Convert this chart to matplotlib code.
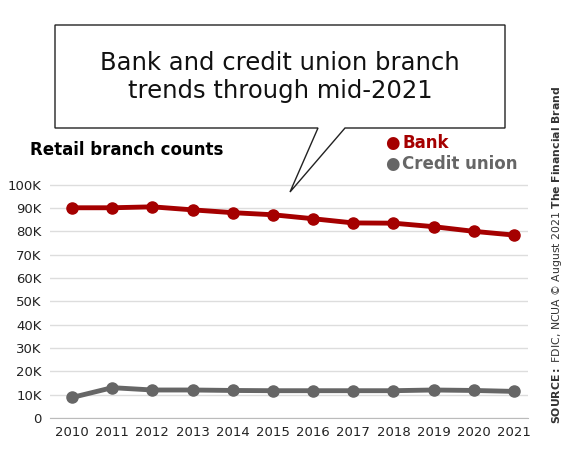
import matplotlib.pyplot as plt
from matplotlib.patches import Polygon

years = list(range(2010, 2022))
bank = [90.1, 90.1, 90.5, 89.2, 88.0, 87.1, 85.4, 83.6, 83.5, 82.0, 80.0, 78.4]
credit_union = [8.8, 13.0, 12.0, 12.0, 11.8, 11.7, 11.7, 11.7, 11.7, 12.0, 11.8, 11.4]
yticks = list(range(0, 101, 10))
ytick_labels = ['0'] + [f'{v}K' for v in yticks[1:]]

RED = '#a50000'
GREY = '#666666'

fig = plt.figure(figsize=(5.85, 4.61), dpi=100)
ax = fig.add_axes([50 / 585, 1 - 418 / 461, 478 / 585, (418 - 180) / 461])

ax.plot(years, bank, color=RED, lw=3.5, marker='o', ms=8, zorder=3)
ax.plot(years, credit_union, color=GREY, lw=3.5, marker='o', ms=8, zorder=3)
ax.set_ylim(0, 102)
ax.set_xlim(2009.45, 2021.35)
ax.set_yticks(yticks)
ax.set_yticklabels(ytick_labels)
ax.set_xticks(years)
ax.grid(axis='y', color='#dddddd', lw=1)
ax.tick_params(length=0, labelsize=9.5, colors='#222222', pad=6)
for s in ax.spines.values():
    s.set_visible(False)
ax.spines['bottom'].set_visible(True)
ax.spines['bottom'].set_color('#bbbbbb')

# speech bubble
px = lambda x, y: (x / 585, 1 - y / 461)
bubble = Polygon([px(55, 25), px(505, 25), px(505, 128), px(345, 128), px(290, 192),
                  px(318, 128), px(55, 128)], closed=True, transform=fig.transFigure,
                 facecolor='white', edgecolor='#222222', lw=1)
fig.patches.append(bubble)
fig.text(280 / 585, 1 - 77 / 461, 'Bank and credit union branch\ntrends through mid-2021',
         ha='center', va='center', fontsize=17.5, color='#111111', linespacing=1.2)

fig.text(30 / 585, 1 - 150 / 461, 'Retail branch counts', fontsize=12, fontweight='bold',
         ha='left', va='center')
fig.text(385 / 585, 1 - 143 / 461, '●', color=RED, fontsize=12, va='center')
fig.text(402 / 585, 1 - 143 / 461, 'Bank', color=RED, fontsize=12, fontweight='bold', va='center')
fig.text(385 / 585, 1 - 164 / 461, '●', color=GREY, fontsize=12, va='center')
fig.text(402 / 585, 1 - 164 / 461, 'Credit union', color=GREY, fontsize=12, fontweight='bold',
         va='center')

fig.text(557 / 585, 1 - 255 / 461,
         r'$\bf{SOURCE:}$ FDIC, NCUA © August 2021 $\bf{The\ Financial\ Brand}$',
         rotation=90, ha='center', va='center', fontsize=7.8, color='#333333')

fig.savefig('out.png', dpi=100)
